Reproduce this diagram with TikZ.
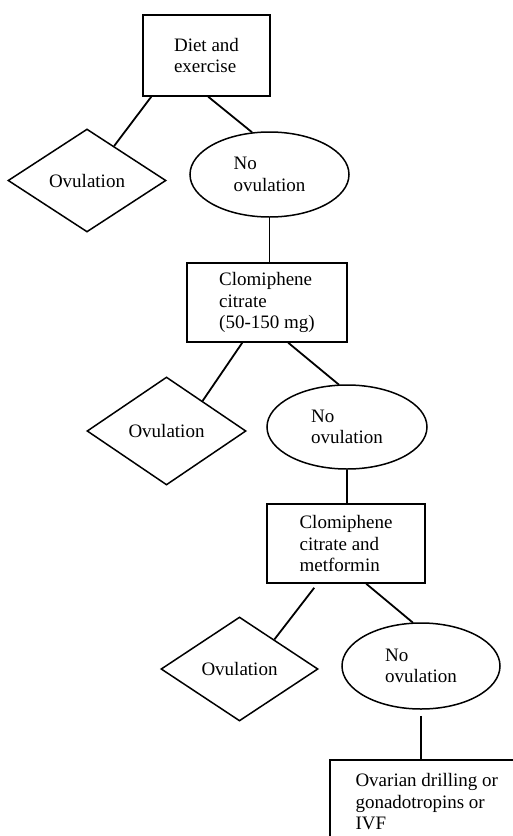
\documentclass[tikz,border=0pt]{standalone}
\usepackage{fontspec}
\setmainfont{Liberation Serif}
\usetikzlibrary{shapes.geometric,calc}
\begin{document}
\begin{tikzpicture}[x=1pt,y=-1pt,
  every node/.style={font=\fontsize{19}{21.5}\selectfont, inner sep=0pt, line width=1.5pt},
  box/.style={draw, rectangle, align=left},
  dia/.style={draw, diamond, aspect=1.5},
  ell/.style={draw, ellipse, align=left},
  link/.style={draw, line width=1.8pt}]
\useasboundingbox (0,0) rectangle (513,836);
\fill[white] (0,0) rectangle (513,836);
\clip (0,0) rectangle (513,836);

\node[box, minimum width=127pt, minimum height=81pt] (box1) at (206.5,55.5) {Diet and\\exercise};
\node[dia, minimum width=158pt, minimum height=103pt] (dia1) at (87,180.5) {Ovulation};
\node[ell, minimum width=159pt, minimum height=85pt] (ell1) at (269.5,174.5) {No\\ovulation};

\node[box, minimum width=160pt, minimum height=79pt] (box2) at (267,302.5) {Clomiphene\\citrate\\(50-150 mg)};
\node[dia, minimum width=159pt, minimum height=108pt] (dia2) at (166.5,431) {Ovulation};
\node[ell, minimum width=160pt, minimum height=84pt] (ell2) at (347,427) {No\\ovulation};

\node[box, minimum width=158pt, minimum height=79pt] (box3) at (346,543.5) {Clomiphene\\citrate and\\metformin};
\node[dia, minimum width=157pt, minimum height=104pt] (dia3) at (239.5,669) {Ovulation};
\node[ell, minimum width=158pt, minimum height=86pt] (ell3) at (421,666) {No\\ovulation};

\node[box, anchor=north west, minimum width=194pt, minimum height=84pt] (box4) at (329,759) {Ovarian drilling or\\gonadotropins or\\IVF};

\draw[link] ($(box1.south west)+(9,0)$) -- ($(dia1.north)!0.34!(dia1.east)$);
\draw[link] ($(box1.south west)+(66,0)$) -- ($(ell1.north)+(-17.5,1)$);
\draw[link] (ell1.south) -- (ell1.south |- box2.north);

\draw[link] ($(box2.south west)+(56,0)$) -- ($(dia2.north)!0.45!(dia2.east)$);
\draw[link] ($(box2.south west)+(102,0)$) -- ($(ell2.north)+(-8,0.5)$);
\draw[link] (ell2.south) -- (ell2.south |- box3.north);

\draw[link] ($(box3.south west)+(48,4)$) -- ($(dia3.north)!0.44!(dia3.east)$);
\draw[link] ($(box3.south west)+(100,0)$) -- ($(ell3.north)+(-8,0.5)$);
\draw[link] ($(ell3.south)+(0,6)$) -- (ell3.south |- box4.north);
\end{tikzpicture}
\end{document}
